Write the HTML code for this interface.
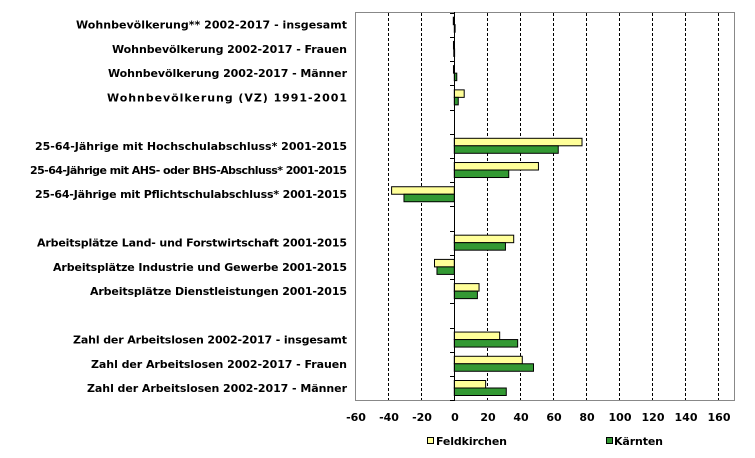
<!DOCTYPE html>
<html><head><meta charset="utf-8"><style>body{margin:0;background:#fff}svg{display:block}text{font-family:"DejaVu Sans","Liberation Sans",sans-serif;font-weight:bold;font-size:11px;fill:#000}</style></head><body>
<svg width="755" height="458" xmlns="http://www.w3.org/2000/svg">
<rect x="355.5" y="12.5" width="379" height="388" fill="#fff" stroke="#888" stroke-width="1"/>
<g stroke="#000" stroke-dasharray="3,2" stroke-width="1">
<line x1="388.5" y1="13" x2="388.5" y2="400"/><line x1="421.5" y1="13" x2="421.5" y2="400"/>
<line x1="487.5" y1="13" x2="487.5" y2="400"/><line x1="520.5" y1="13" x2="520.5" y2="400"/>
<line x1="553.5" y1="13" x2="553.5" y2="400"/><line x1="586.5" y1="13" x2="586.5" y2="400"/>
<line x1="619.5" y1="13" x2="619.5" y2="400"/><line x1="652.5" y1="13" x2="652.5" y2="400"/>
<line x1="685.5" y1="13" x2="685.5" y2="400"/><line x1="718.5" y1="13" x2="718.5" y2="400"/>
</g>
<g id="bars" stroke="#000" stroke-width="1"></g>
<g stroke="#000"><line x1="454.5" y1="12" x2="454.5" y2="401"/></g>
<g id="ticks" stroke="#000"></g>
<g id="labels" text-anchor="end"></g>
<g text-anchor="middle">
<text x="356" y="421">-60</text><text x="389" y="421">-40</text><text x="422" y="421">-20</text><text x="455" y="421">0</text><text x="488" y="421">20</text><text x="521" y="421">40</text><text x="554" y="421">60</text><text x="587" y="421">80</text><text x="620" y="421">100</text><text x="653" y="421">120</text><text x="686" y="421">140</text><text x="719" y="421">160</text>
</g>
<rect x="427.5" y="437.5" width="6" height="6" fill="#ffff99" stroke="#000"/>
<text x="436" y="445" textLength="71" lengthAdjust="spacing">Feldkirchen</text>
<rect x="606.5" y="437.5" width="6" height="6" fill="#339933" stroke="#000"/>
<text x="614" y="445" textLength="49" lengthAdjust="spacing">Kärnten</text>
<script>
var s=24.22,t=12.7,z=454.3,k=1.65;
var d=[[0,-0.6,0.5,"Wohnbevölkerung** 2002-2017 - insgesamt",76],[1,-0.5,-0.3,"Wohnbevölkerung 2002-2017 - Frauen",112],[2,-0.5,1.5,"Wohnbevölkerung 2002-2017 - Männer",108],[3,6,2.4,"Wohnbevölkerung (VZ) 1991-2001",107],
[5,77.4,63,"25-64-Jährige mit Hochschulabschluss* 2001-2015",35],[6,51,33,"25-64-Jährige mit AHS- oder BHS-Abschluss* 2001-2015",30],[7,-38,-30.5,"25-64-Jährige mit Pflichtschulabschluss* 2001-2015",35],
[9,36,31,"Arbeitsplätze Land- und Forstwirtschaft 2001-2015",37],[10,-12,-10.5,"Arbeitsplätze Industrie und Gewerbe 2001-2015",53],[11,15,14,"Arbeitsplätze Dienstleistungen 2001-2015",90],
[13,27.5,38.4,"Zahl der Arbeitslosen 2002-2017 - insgesamt",73],[14,41.2,48,"Zahl der Arbeitslosen 2002-2017 - Frauen",91],[15,19,31.5,"Zahl der Arbeitslosen 2002-2017 - Männer",87]];
var NS="http://www.w3.org/2000/svg",b=document.getElementById("bars"),l=document.getElementById("labels"),tk=document.getElementById("ticks");
function r(v,y,c){var e=document.createElementNS(NS,"rect");var x1=z,x2=z+v*k;e.setAttribute("x",Math.min(x1,x2));e.setAttribute("y",y);e.setAttribute("width",Math.max(Math.abs(x2-x1),0.8));e.setAttribute("height",7.5);e.setAttribute("fill",c);b.appendChild(e);}
d.forEach(function(a){var y=t+s*a[0];r(a[1],y+4.5,"#ffff99");r(a[2],y+12,"#339933");
var e=document.createElementNS(NS,"text");e.setAttribute("x",347);e.setAttribute("y",y+16);e.setAttribute("textLength",347-a[4]);e.setAttribute("lengthAdjust","spacing");e.textContent=a[3];l.appendChild(e);});
for(var i=0;i<=16;i++){var e=document.createElementNS(NS,"line");var y=Math.round(t+s*i)+0.5;e.setAttribute("x1",450);e.setAttribute("x2",454);e.setAttribute("y1",y);e.setAttribute("y2",y);tk.appendChild(e);}
</script>
</svg>
</body></html>
